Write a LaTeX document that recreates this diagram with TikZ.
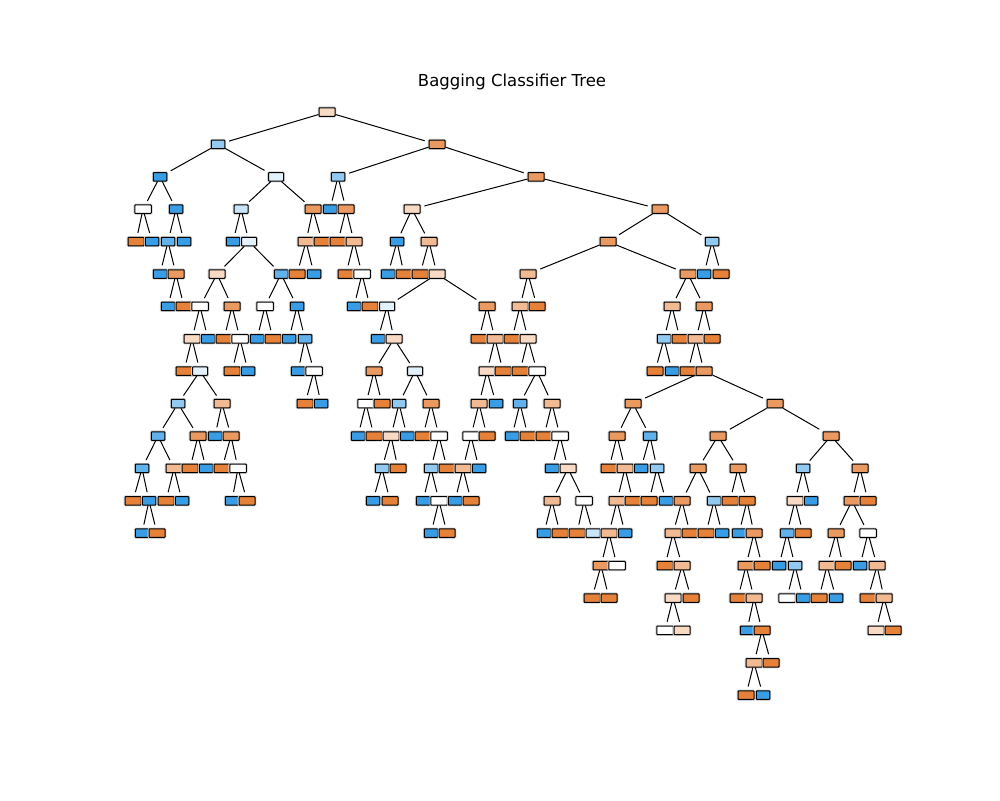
\documentclass[tikz,border=0pt]{standalone}
\usepackage{fontspec}
\setmainfont{DejaVu Sans}
\definecolor{cO}{HTML}{E58139}
\definecolor{cB}{HTML}{399DE5}
\tikzset{
  bx/.style={rectangle, rounded corners=0.7pt, draw=black, line width=1pt, minimum height=8.5pt, minimum width=16pt, inner sep=0pt,
     preaction={draw=black!18, line width=2.6pt}},
  o1/.style={fill=cO},
  o2/.style={fill=cO!80!white},
  o3/.style={fill=cO!55!white},
  o4/.style={fill=cO!30!white},
  w/.style={fill=white, minimum width=16.5pt},
  b5/.style={fill=cB!14!white, minimum width=15pt},
  b4/.style={fill=cB!28!white, minimum width=14pt},
  b3/.style={fill=cB!55!white, minimum width=13.5pt},
  b2/.style={fill=cB!80!white, minimum width=13.5pt},
  b1/.style={fill=cB, minimum width=13.5pt},
  edge/.style={draw=black, line width=1pt, shorten >=4pt}
}
\newcommand\nd[3]{\node[bx,#3] (L#2x#1) at (#1,{112+32.4*#2}) {};}
\newcommand\ed[3]{\draw[edge] (#1) -- (#2); \draw[edge] (#1) -- (#3);}
\begin{document}
\begin{tikzpicture}[x=1pt,y=-1pt]
\useasboundingbox (0,0) rectangle (1000,800);
\node[font=\fontsize{16.5}{19}\selectfont] (title) at (512,82) {Bagging Classifier Tree};
% level 0
\nd{327}{0}{o4}
% level 1
\nd{218}{1}{b3}\nd{437}{1}{o2}
% level 2
\nd{160}{2}{b1}\nd{276}{2}{b5}\nd{338}{2}{b3}\nd{536}{2}{o2}
% level 3
\nd{143}{3}{w}\nd{176}{3}{b1}\nd{241}{3}{b4}\nd{313}{3}{o2}\nd{330}{3}{b1}\nd{346}{3}{o2}\nd{412}{3}{o4}\nd{660}{3}{o2}
% level 4
\nd{136}{4}{o1}\nd{152}{4}{b1}\nd{168}{4}{b2}\nd{184}{4}{b1}\nd{233}{4}{b1}\nd{249}{4}{b5}\nd{306}{4}{o3}\nd{322}{4}{o1}
\nd{338}{4}{o1}\nd{354}{4}{o3}\nd{397}{4}{b1}\nd{429}{4}{o3}\nd{608}{4}{o2}\nd{712}{4}{b3}
% level 5
\nd{160}{5}{b1}\nd{176}{5}{o2}\nd{217}{5}{o4}\nd{281}{5}{b2}\nd{297}{5}{o1}\nd{314}{5}{b1}\nd{346}{5}{o1}\nd{362}{5}{w}
\nd{388}{5}{b1}\nd{404}{5}{o1}\nd{420}{5}{o1}\nd{437}{5}{o4}\nd{528}{5}{o3}\nd{688}{5}{o2}\nd{704}{5}{b1}\nd{721}{5}{o1}
% level 6
\nd{168}{6}{b1}\nd{184}{6}{o1}\nd{200}{6}{w}\nd{232}{6}{o2}\nd{265}{6}{w}\nd{297}{6}{b1}\nd{354}{6}{b1}\nd{370}{6}{o1}
\nd{387}{6}{b5}\nd{487}{6}{o2}\nd{520}{6}{o3}\nd{537}{6}{o1}\nd{672}{6}{o3}\nd{704}{6}{o2}
% level 7
\nd{192}{7}{o4}\nd{208}{7}{b1}\nd{224}{7}{o1}\nd{240}{7}{w}\nd{257}{7}{b1}\nd{273}{7}{o1}\nd{289}{7}{b1}\nd{305}{7}{b2}
\nd{378}{7}{b1}\nd{394}{7}{o4}\nd{479}{7}{o1}\nd{495}{7}{o3}\nd{512}{7}{o1}\nd{528}{7}{o4}\nd{664}{7}{b3}\nd{680}{7}{o1}
\nd{696}{7}{o3}\nd{712}{7}{o1}
% level 8
\nd{184}{8}{o1}\nd{200}{8}{b5}\nd{232}{8}{o1}\nd{248}{8}{b1}\nd{298}{8}{b1}\nd{314}{8}{w}\nd{374}{8}{o2}\nd{415}{8}{b5}
\nd{487}{8}{o4}\nd{503}{8}{o1}\nd{520}{8}{o1}\nd{537}{8}{w}\nd{655}{8}{o1}\nd{672}{8}{b1}\nd{688}{8}{o1}\nd{704}{8}{o2}
% level 9
\nd{178}{9}{b3}\nd{222}{9}{o3}\nd{305}{9}{o1}\nd{321}{9}{b1}\nd{366}{9}{w}\nd{382}{9}{o1}\nd{399}{9}{b3}\nd{431}{9}{o2}
\nd{479}{9}{o3}\nd{496}{9}{b1}\nd{520}{9}{b2}\nd{552}{9}{o3}\nd{633}{9}{o2}\nd{775}{9}{o2}
% level 10
\nd{158}{10}{b2}\nd{198}{10}{o2}\nd{215}{10}{b1}\nd{231}{10}{o2}\nd{358}{10}{b1}\nd{374}{10}{o1}\nd{391}{10}{o4}\nd{407}{10}{b1}
\nd{423}{10}{o1}\nd{439}{10}{w}\nd{471}{10}{w}\nd{487}{10}{o1}\nd{512}{10}{b1}\nd{528}{10}{o1}\nd{544}{10}{o1}\nd{560}{10}{w}
\nd{617}{10}{o2}\nd{650}{10}{b2}\nd{718}{10}{o2}\nd{831}{10}{o2}
% level 11
\nd{142}{11}{b2}\nd{174}{11}{o3}\nd{190}{11}{o1}\nd{206}{11}{b1}\nd{222}{11}{o1}\nd{238}{11}{w}\nd{382}{11}{b3}\nd{398}{11}{o1}
\nd{431}{11}{b3}\nd{447}{11}{o1}\nd{463}{11}{o3}\nd{479}{11}{b1}\nd{552}{11}{b1}\nd{568}{11}{o4}\nd{609}{11}{o1}\nd{625}{11}{o3}
\nd{641}{11}{b1}\nd{657}{11}{b3}\nd{698}{11}{o2}\nd{738}{11}{o2}\nd{803}{11}{b3}\nd{860}{11}{o2}
% level 12
\nd{133}{12}{o1}\nd{149}{12}{b1}\nd{166}{12}{o1}\nd{182}{12}{b1}\nd{232}{12}{b1}\nd{247}{12}{o1}\nd{373}{12}{b1}\nd{390}{12}{o1}
\nd{423}{12}{b1}\nd{439}{12}{w}\nd{455}{12}{b1}\nd{471}{12}{o1}\nd{552}{12}{o3}\nd{584}{12}{w}\nd{617}{12}{o3}\nd{633}{12}{o1}
\nd{649}{12}{o1}\nd{666}{12}{b1}\nd{682}{12}{o2}\nd{714}{12}{b3}\nd{730}{12}{o1}\nd{747}{12}{o1}\nd{795}{12}{o4}\nd{811}{12}{b1}
\nd{852}{12}{o2}\nd{868}{12}{o1}
% level 13
\nd{142}{13}{b1}\nd{157}{13}{o1}\nd{431}{13}{b1}\nd{447}{13}{o1}\nd{544}{13}{b1}\nd{560}{13}{o1}\nd{577}{13}{o1}\nd{593}{13}{b4}
\nd{609}{13}{o3}\nd{625}{13}{b1}\nd{673}{13}{o3}\nd{690}{13}{o1}\nd{706}{13}{o1}\nd{722}{13}{b1}\nd{739}{13}{b1}\nd{754}{13}{o2}
\nd{787}{13}{b2}\nd{803}{13}{o1}\nd{836}{13}{o2}\nd{868}{13}{w}
% level 14
\nd{601}{14}{o2}\nd{617}{14}{w}\nd{665}{14}{o1}\nd{682}{14}{o3}\nd{746}{14}{o2}\nd{762}{14}{o1}\nd{779}{14}{b1}\nd{795}{14}{b3}
\nd{827}{14}{o3}\nd{843}{14}{o1}\nd{860}{14}{b1}\nd{877}{14}{o3}
% level 15
\nd{592}{15}{o1}\nd{609}{15}{o1}\nd{673}{15}{o4}\nd{691}{15}{o1}\nd{738}{15}{o1}\nd{754}{15}{o3}\nd{787}{15}{w}\nd{803}{15}{b1}
\nd{819}{15}{o1}\nd{836}{15}{b1}\nd{868}{15}{o1}\nd{884}{15}{o3}
% level 16
\nd{665}{16}{w}\nd{682}{16}{o4}\nd{747}{16}{b1}\nd{762}{16}{o1}\nd{876}{16}{o4}\nd{893}{16}{o1}
% level 17
\nd{754}{17}{o3}\nd{771}{17}{o1}
% level 18
\nd{746}{18}{o1}\nd{763}{18}{b1}
% edges
\ed{L0x327}{L1x218}{L1x437}
\ed{L1x218}{L2x160}{L2x276}
\ed{L1x437}{L2x338}{L2x536}
\ed{L2x160}{L3x143}{L3x176}
\ed{L2x276}{L3x241}{L3x313}
\ed{L2x338}{L3x330}{L3x346}
\ed{L2x536}{L3x412}{L3x660}
\ed{L3x143}{L4x136}{L4x152}
\ed{L3x176}{L4x168}{L4x184}
\ed{L3x241}{L4x233}{L4x249}
\ed{L3x313}{L4x306}{L4x322}
\ed{L3x346}{L4x338}{L4x354}
\ed{L3x412}{L4x397}{L4x429}
\ed{L3x660}{L4x608}{L4x712}
\ed{L4x168}{L5x160}{L5x176}
\ed{L4x249}{L5x217}{L5x281}
\ed{L4x306}{L5x297}{L5x314}
\ed{L4x354}{L5x346}{L5x362}
\ed{L4x397}{L5x388}{L5x404}
\ed{L4x429}{L5x420}{L5x437}
\ed{L4x608}{L5x528}{L5x688}
\ed{L4x712}{L5x704}{L5x721}
\ed{L5x176}{L6x168}{L6x184}
\ed{L5x217}{L6x200}{L6x232}
\ed{L5x281}{L6x265}{L6x297}
\ed{L5x362}{L6x354}{L6x370}
\ed{L5x437}{L6x387}{L6x487}
\ed{L5x528}{L6x520}{L6x537}
\ed{L5x688}{L6x672}{L6x704}
\ed{L6x200}{L7x192}{L7x208}
\ed{L6x232}{L7x224}{L7x240}
\ed{L6x265}{L7x257}{L7x273}
\ed{L6x297}{L7x289}{L7x305}
\ed{L6x387}{L7x378}{L7x394}
\ed{L6x487}{L7x479}{L7x495}
\ed{L6x520}{L7x512}{L7x528}
\ed{L6x672}{L7x664}{L7x680}
\ed{L6x704}{L7x696}{L7x712}
\ed{L7x192}{L8x184}{L8x200}
\ed{L7x240}{L8x232}{L8x248}
\ed{L7x305}{L8x298}{L8x314}
\ed{L7x394}{L8x374}{L8x415}
\ed{L7x495}{L8x487}{L8x503}
\ed{L7x528}{L8x520}{L8x537}
\ed{L7x664}{L8x655}{L8x672}
\ed{L7x696}{L8x688}{L8x704}
\ed{L8x200}{L9x178}{L9x222}
\ed{L8x314}{L9x305}{L9x321}
\ed{L8x374}{L9x366}{L9x382}
\ed{L8x415}{L9x399}{L9x431}
\ed{L8x487}{L9x479}{L9x496}
\ed{L8x537}{L9x520}{L9x552}
\ed{L8x704}{L9x633}{L9x775}
\ed{L9x178}{L10x158}{L10x198}
\ed{L9x222}{L10x215}{L10x231}
\ed{L9x366}{L10x358}{L10x374}
\ed{L9x399}{L10x391}{L10x407}
\ed{L9x431}{L10x423}{L10x439}
\ed{L9x479}{L10x471}{L10x487}
\ed{L9x520}{L10x512}{L10x528}
\ed{L9x552}{L10x544}{L10x560}
\ed{L9x633}{L10x617}{L10x650}
\ed{L9x775}{L10x718}{L10x831}
\ed{L10x158}{L11x142}{L11x174}
\ed{L10x198}{L11x190}{L11x206}
\ed{L10x231}{L11x222}{L11x238}
\ed{L10x391}{L11x382}{L11x398}
\ed{L10x439}{L11x431}{L11x447}
\ed{L10x471}{L11x463}{L11x479}
\ed{L10x560}{L11x552}{L11x568}
\ed{L10x617}{L11x609}{L11x625}
\ed{L10x650}{L11x641}{L11x657}
\ed{L10x718}{L11x698}{L11x738}
\ed{L10x831}{L11x803}{L11x860}
\ed{L11x142}{L12x133}{L12x149}
\ed{L11x174}{L12x166}{L12x182}
\ed{L11x238}{L12x232}{L12x247}
\ed{L11x382}{L12x373}{L12x390}
\ed{L11x431}{L12x423}{L12x439}
\ed{L11x463}{L12x455}{L12x471}
\ed{L11x568}{L12x552}{L12x584}
\ed{L11x625}{L12x617}{L12x633}
\ed{L11x657}{L12x649}{L12x666}
\ed{L11x698}{L12x682}{L12x714}
\ed{L11x738}{L12x730}{L12x747}
\ed{L11x803}{L12x795}{L12x811}
\ed{L11x860}{L12x852}{L12x868}
\ed{L12x149}{L13x142}{L13x157}
\ed{L12x439}{L13x431}{L13x447}
\ed{L12x552}{L13x544}{L13x560}
\ed{L12x584}{L13x577}{L13x593}
\ed{L12x617}{L13x609}{L13x625}
\ed{L12x682}{L13x673}{L13x690}
\ed{L12x714}{L13x706}{L13x722}
\ed{L12x747}{L13x739}{L13x754}
\ed{L12x795}{L13x787}{L13x803}
\ed{L12x852}{L13x836}{L13x868}
\ed{L13x609}{L14x601}{L14x617}
\ed{L13x673}{L14x665}{L14x682}
\ed{L13x754}{L14x746}{L14x762}
\ed{L13x787}{L14x779}{L14x795}
\ed{L13x836}{L14x827}{L14x843}
\ed{L13x868}{L14x860}{L14x877}
\ed{L14x601}{L15x592}{L15x609}
\ed{L14x682}{L15x673}{L15x691}
\ed{L14x746}{L15x738}{L15x754}
\ed{L14x795}{L15x787}{L15x803}
\ed{L14x827}{L15x819}{L15x836}
\ed{L14x877}{L15x868}{L15x884}
\ed{L15x673}{L16x665}{L16x682}
\ed{L15x754}{L16x747}{L16x762}
\ed{L15x884}{L16x876}{L16x893}
\ed{L16x762}{L17x754}{L17x771}
\ed{L17x754}{L18x746}{L18x763}
\end{tikzpicture}
\end{document}
